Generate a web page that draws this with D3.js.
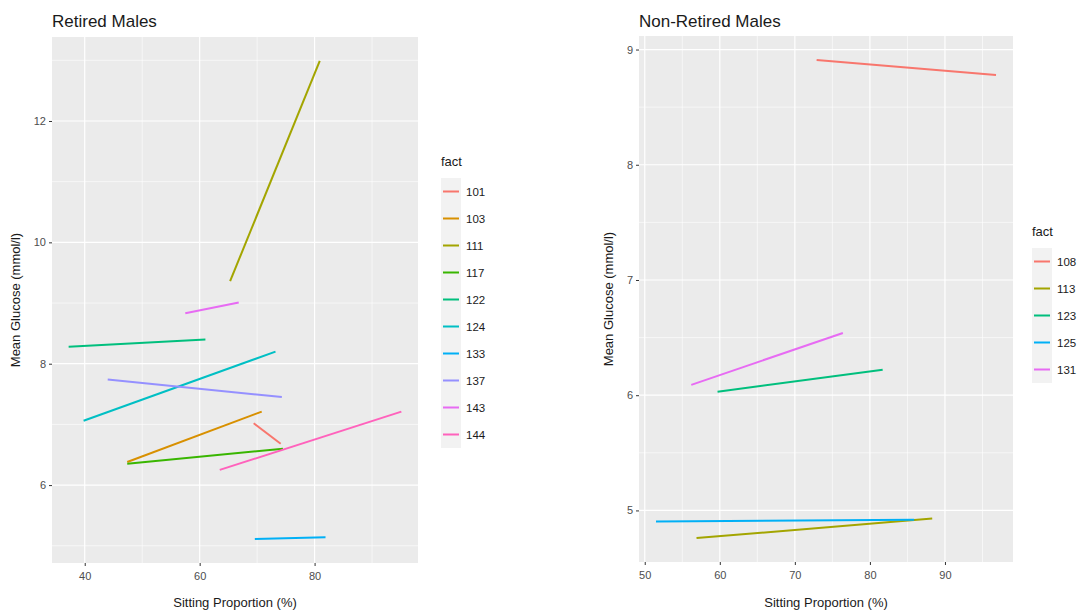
<!DOCTYPE html>
<html>
<head>
<meta charset="utf-8">
<script src="https://cdn.jsdelivr.net/npm/d3@7"></script>
<style>
  body { margin: 0; background: #fff; }
  svg { font-family: "Liberation Sans", Arial, sans-serif; }
</style>
</head>
<body>
<svg id="chart" width="1082" height="616"></svg>
<script>
// Retired males: one fitted line per subject (start and end point)
var retiredIds = ['101', '103', '111', '117', '122', '124', '133', '137', '143', '144']
var retiredX0 = [69.4, 47.4, 65.3, 47.4, 37.2, 39.8, 69.6, 44.0, 57.5, 63.5]
var retiredY0 = [7.02, 6.38, 9.36, 6.35, 8.28, 7.06, 5.11, 7.74, 8.83, 6.25]
var retiredX1 = [74.1, 70.8, 80.9, 74.5, 61.0, 73.2, 81.9, 74.3, 66.8, 95.1]
var retiredY1 = [6.68, 7.21, 12.99, 6.60, 8.40, 8.20, 5.14, 7.45, 9.01, 7.21]
var retiredColors = ['#F8766D', '#D89000', '#A3A500', '#39B600', '#00BF7D', '#00BFC4', '#00B0F6', '#9590FF', '#E76BF3', '#FF62BC']
var retiredXTicks = [40, 60, 80]
var retiredYTicks = [6, 8, 10, 12]

// Non-retired males
var nonRetiredIds = ['108', '113', '123', '125', '131']
var nonRetiredX0 = [72.9, 56.9, 59.7, 51.5, 56.2]
var nonRetiredY0 = [8.91, 4.76, 6.03, 4.905, 6.09]
var nonRetiredX1 = [96.8, 88.3, 81.7, 85.9, 76.4]
var nonRetiredY1 = [8.78, 4.93, 6.22, 4.92, 6.54]
var nonRetiredColors = ['#F8766D', '#A3A500', '#00BF7D', '#00B0F6', '#E76BF3']
var nonRetiredXTicks = [50, 60, 70, 80, 90]
var nonRetiredYTicks = [5, 6, 7, 8, 9]

var svg = d3.select('#chart')

function expand(lo, hi){
    var pad = (hi - lo) * 0.05
    return [lo - pad, hi + pad]
}

function drawPanel(opts){
    var rows = opts.ids.map(function(id, i){
        return {id: id, x0: opts.x0[i], y0: opts.y0[i], x1: opts.x1[i], y1: opts.y1[i], color: opts.colors[i]}
    })
    var allX = opts.x0.concat(opts.x1)
    var allY = opts.y0.concat(opts.y1)

    var x = d3.scaleLinear().domain(expand(d3.min(allX), d3.max(allX))).range([opts.left, opts.right])
    var y = d3.scaleLinear().domain(expand(d3.min(allY), d3.max(allY))).range([opts.bottom, opts.top])

    var g = svg.append('g')

    g.append('rect')
        .attr('x', opts.left).attr('y', opts.top)
        .attr('width', opts.right - opts.left).attr('height', opts.bottom - opts.top)
        .attr('fill', '#EBEBEB')

    // minor grid lines halfway between the breaks
    var xStep = opts.xTicks[1] - opts.xTicks[0]
    var yStep = opts.yTicks[1] - opts.yTicks[0]
    var xMinor = [], yMinor = []
    for(var v = opts.xTicks[0] - xStep / 2; v <= x.domain()[1]; v += xStep){
        if(v >= x.domain()[0]) xMinor.push(v)
    }
    for(var w = opts.yTicks[0] - yStep / 2; w <= y.domain()[1]; w += yStep){
        if(w >= y.domain()[0]) yMinor.push(w)
    }

    g.selectAll('line.xminor').data(xMinor).enter().append('line')
        .attr('class', 'xminor')
        .attr('x1', function(d){ return x(d) }).attr('x2', function(d){ return x(d) })
        .attr('y1', opts.top).attr('y2', opts.bottom)
        .attr('stroke', '#fff').attr('stroke-width', 0.6)
    g.selectAll('line.yminor').data(yMinor).enter().append('line')
        .attr('class', 'yminor')
        .attr('y1', function(d){ return y(d) }).attr('y2', function(d){ return y(d) })
        .attr('x1', opts.left).attr('x2', opts.right)
        .attr('stroke', '#fff').attr('stroke-width', 0.6)
    g.selectAll('line.xmajor').data(opts.xTicks).enter().append('line')
        .attr('class', 'xmajor')
        .attr('x1', function(d){ return x(d) }).attr('x2', function(d){ return x(d) })
        .attr('y1', opts.top).attr('y2', opts.bottom)
        .attr('stroke', '#fff').attr('stroke-width', 1.2)
    g.selectAll('line.ymajor').data(opts.yTicks).enter().append('line')
        .attr('class', 'ymajor')
        .attr('y1', function(d){ return y(d) }).attr('y2', function(d){ return y(d) })
        .attr('x1', opts.left).attr('x2', opts.right)
        .attr('stroke', '#fff').attr('stroke-width', 1.2)

    g.selectAll('line.fit').data(rows).enter().append('line')
        .attr('class', 'fit')
        .attr('x1', function(d){ return x(d.x0) }).attr('y1', function(d){ return y(d.y0) })
        .attr('x2', function(d){ return x(d.x1) }).attr('y2', function(d){ return y(d.y1) })
        .attr('stroke', function(d){ return d.color })
        .attr('stroke-width', 2)
        .attr('stroke-linecap', 'butt')

    var xAxis = g.append('g')
        .attr('transform', 'translate(0,' + opts.bottom + ')')
        .call(d3.axisBottom(x).tickValues(opts.xTicks).tickFormat(d3.format('d')).tickSize(3).tickPadding(6))
    var yAxis = g.append('g')
        .attr('transform', 'translate(' + opts.left + ',0)')
        .call(d3.axisLeft(y).tickValues(opts.yTicks).tickFormat(d3.format('d')).tickSize(3).tickPadding(3))
    ;[xAxis, yAxis].forEach(function(a){
        a.select('.domain').remove()
        a.selectAll('line').attr('stroke', '#333')
        a.selectAll('text').attr('fill', '#4D4D4D').attr('font-size', '11px')
            .attr('font-family', '"Liberation Sans", Arial, sans-serif')
    })

    g.append('text')
        .attr('x', opts.left).attr('y', 27)
        .attr('font-size', '17px').attr('fill', '#1a1a1a')
        .text(opts.title)

    g.append('text')
        .attr('x', (opts.left + opts.right) / 2).attr('y', 607)
        .attr('text-anchor', 'middle')
        .attr('font-size', '13px').attr('fill', '#1a1a1a')
        .text('Sitting Proportion (%)')

    g.append('text')
        .attr('transform', 'translate(' + opts.yTitleX + ',' + ((opts.top + opts.bottom) / 2) + ') rotate(-90)')
        .attr('text-anchor', 'middle')
        .attr('font-size', '13px').attr('fill', '#1a1a1a')
        .text('Mean Glucose (mmol/l)')

    // legend
    var lg = g.append('g').attr('transform', 'translate(' + opts.legendX + ',' + opts.legendY + ')')
    lg.append('text')
        .attr('x', 0).attr('y', 0)
        .attr('font-size', '13px').attr('fill', '#1a1a1a')
        .text('fact')
    var keys = lg.selectAll('g.key').data(rows).enter().append('g')
        .attr('class', 'key')
        .attr('transform', function(d, i){ return 'translate(0,' + (12 + i * 27) + ')' })
    keys.append('rect')
        .attr('x', 0).attr('y', 0).attr('width', 20).attr('height', 27)
        .attr('fill', '#F2F2F2')
    keys.append('line')
        .attr('x1', 2).attr('x2', 18).attr('y1', 13.5).attr('y2', 13.5)
        .attr('stroke', function(d){ return d.color })
        .attr('stroke-width', 2)
    keys.append('text')
        .attr('x', 25).attr('y', 17.5)
        .attr('font-size', '11.5px').attr('fill', '#1a1a1a')
        .text(function(d){ return d.id })
}

drawPanel({
    title: 'Retired Males',
    ids: retiredIds, x0: retiredX0, y0: retiredY0, x1: retiredX1, y1: retiredY1,
    colors: retiredColors, xTicks: retiredXTicks, yTicks: retiredYTicks,
    left: 52, right: 418, top: 37, bottom: 563,
    yTitleX: 20, legendX: 441, legendY: 166
})

drawPanel({
    title: 'Non-Retired Males',
    ids: nonRetiredIds, x0: nonRetiredX0, y0: nonRetiredY0, x1: nonRetiredX1, y1: nonRetiredY1,
    colors: nonRetiredColors, xTicks: nonRetiredXTicks, yTicks: nonRetiredYTicks,
    left: 639, right: 1013, top: 36, bottom: 562,
    yTitleX: 613, legendX: 1032, legendY: 236
})
</script>
</body>
</html>
